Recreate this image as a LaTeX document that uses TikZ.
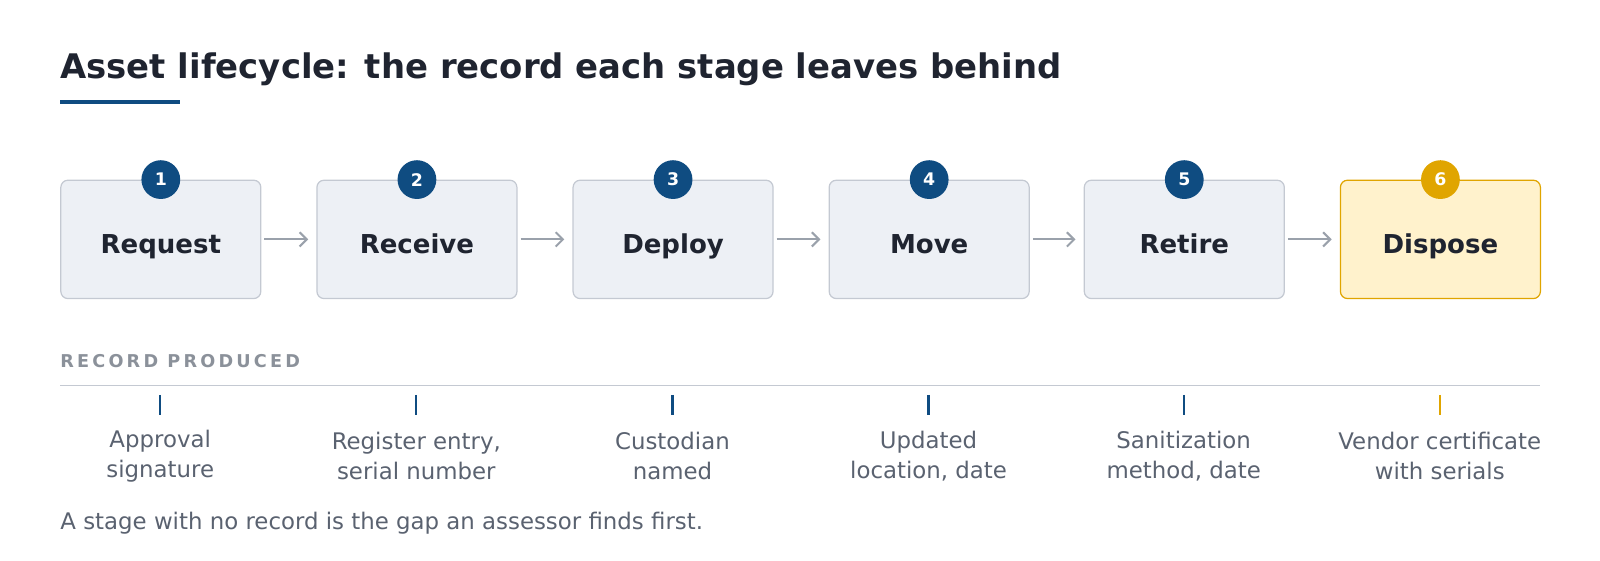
\documentclass[tikz,border=0pt]{standalone}
\usepackage{fontspec}
\setmainfont{DejaVu Sans}
\usetikzlibrary{arrows.meta}
\definecolor{dk}{HTML}{1F2430}
\definecolor{nav}{HTML}{0F4C81}
\definecolor{bx}{HTML}{EDF0F5}
\definecolor{bd}{HTML}{C4C9D2}
\definecolor{yf}{HTML}{FFF2CC}
\definecolor{yb}{HTML}{E0A500}
\definecolor{gt}{HTML}{5A6270}
\definecolor{ar}{HTML}{9AA1AB}
\begin{document}
\begin{tikzpicture}[x=1pt,y=-1pt,
 stage/.style={draw=bd,fill=bx,line width=1.2pt,rounded corners=7pt,minimum width=196pt,minimum height=116pt,anchor=north west,font=\fontsize{25.5}{30}\selectfont\bfseries,text=dk,text height=28pt,text depth=0pt},
 last/.style={stage,draw=yb,fill=yf},
 badge/.style={circle,fill=nav,minimum size=38pt,inner sep=0,font=\fontsize{17}{20}\selectfont\bfseries,text=white},
 arr/.style={draw=ar,line width=2pt,-{Straight Barb[length=7pt,width=14pt,line width=2pt]}},
 tick/.style={draw=nav,line width=2.2pt},
 rec/.style={align=center,font=\fontsize{22.4}{29}\selectfont,text=gt}]
\useasboundingbox (0,0) rectangle (1568,549);
\node[anchor=base west,font=\fontsize{33.2}{40}\selectfont\bfseries,text=dk,inner sep=0] (title) at (59,77) {Asset lifecycle: the record each stage leaves behind};
\draw[nav,line width=4pt] (59,100) coordinate (u1) -- (176,100) coordinate (u2);
\foreach \i/\x/\t/\r in {1/59/Request/{Approval\\signature},2/310/Receive/{Register entry,\\serial number},3/561/Deploy/{Custodian\\named},4/812/Move/{Updated\\location, date},5/1062/Retire/{Sanitization\\method, date},6/1313/Dispose/{Vendor certificate\\with serials}}{
 \ifnum\i=6
  \node[last] (s\i) at (\x,176) {\t};
  \node[badge,fill=yb] (b\i) at (s\i.north) {\i};
  \draw[tick,draw=yb] (\x+98,387) coordinate (t\i) -- (\x+98,407) coordinate (e\i);
 \else
  \node[stage] (s\i) at (\x,176) {\t};
  \node[badge] (b\i) at (s\i.north) {\i};
  \draw[tick] (\x+98,387) coordinate (t\i) -- (\x+98,407) coordinate (e\i);
 \fi
 \node[rec] (r\i) at (\x+98,447) {\r};
}
\foreach \a/\b in {1/2,2/3,3/4,4/5,5/6}{
 \draw[arr] ([xshift=3pt]s\a.east) -- ([xshift=-8pt]s\b.west);
}
\node[anchor=base west,inner sep=0,text=ar!90!black,font=\fontsize{17.3}{20}\selectfont\bfseries\addfontfeatures{LetterSpace=18}] (rp) at (59,360) {RECORD PRODUCED};
\draw[bd,line width=1.2pt] (59,378) coordinate (l1) -- (1509,378) coordinate (l2);
\node[anchor=base west,inner sep=0,text=gt,font=\fontsize{22.4}{26}\selectfont] (ft) at (59,519) {A stage with no record is the gap an assessor finds first.};
\end{tikzpicture}
\end{document}
